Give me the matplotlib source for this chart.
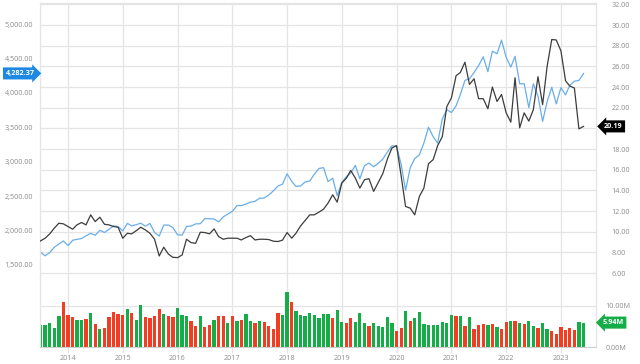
import matplotlib

matplotlib.use("Agg")

import matplotlib.dates as mdates  # noqa: E402
import matplotlib.pyplot as plt  # noqa: E402
import matplotlib.transforms as mtransforms  # noqa: E402
import pandas as pd  # noqa: E402

# monthly points, Jul 2013 .. Jun 2023
months = pd.date_range("2013-07-01", periods=120, freq="MS")

index_close = [
    1685.7, 1633.0, 1681.6, 1756.5, 1805.8, 1848.4,
    1782.6, 1859.5, 1872.3, 1884.0, 1923.6, 1960.2, 1930.7, 2003.4, 1972.3, 2018.1, 2067.6, 2058.9,
    1995.0, 2104.5, 2067.9, 2085.5, 2107.4, 2063.1, 2103.8, 1972.2, 1920.0, 2079.4, 2080.4, 2043.9,
    1940.2, 1932.2, 2059.7, 2065.3, 2097.0, 2098.9, 2173.6, 2171.0, 2168.3, 2126.2, 2198.8, 2238.8,
    2278.9, 2363.6, 2362.7, 2384.2, 2411.8, 2423.4, 2470.3, 2471.7, 2519.4, 2575.3, 2647.6, 2673.6,
    2823.8, 2713.8, 2640.9, 2648.1, 2705.3, 2718.4, 2816.3, 2901.5, 2914.0, 2711.7, 2760.2, 2506.9,
    2704.1, 2784.5, 2834.4, 2945.8, 2752.1, 2941.8, 2980.4, 2926.5, 2976.7, 3037.6, 3141.0, 3230.8,
    3225.5, 2954.2, 2584.6, 2912.4, 3044.3, 3100.3, 3271.1, 3500.3, 3363.0, 3270.0, 3621.6, 3756.1,
    3714.2, 3811.2, 3972.9, 4181.2, 4204.1, 4297.5, 4395.3, 4522.7, 4307.5, 4605.4, 4567.0, 4766.2,
    4515.6, 4373.9, 4530.4, 4131.9, 4132.2, 3785.4, 4130.3, 3955.0, 3585.6, 3872.0, 4080.1, 3839.5,
    4076.6, 3970.2, 4109.3, 4169.5, 4179.8, 4282.37,
]

stock_close = [
    9.11, 9.37, 9.79, 10.34, 10.82, 10.76,
    10.50, 10.24, 10.66, 10.89, 10.66, 11.63, 10.98, 11.40, 10.72, 10.66, 10.50, 10.43,
    9.37, 9.85, 9.79, 10.10, 10.43, 10.17, 9.85, 9.27, 7.65, 8.50, 7.84, 7.52,
    7.49, 7.75, 9.27, 8.94, 8.88, 9.95, 9.92, 9.79, 10.27, 9.53, 9.27, 9.37,
    9.37, 9.37, 9.20, 9.43, 9.62, 9.20, 9.27, 9.27, 9.24, 9.08, 9.05, 9.18,
    9.92, 9.37, 9.85, 10.56, 11.08, 11.63, 11.63, 11.89, 12.18, 12.77, 13.57, 12.86,
    14.70, 15.19, 15.93, 15.19, 14.22, 15.03, 15.13, 13.90, 14.77, 15.61, 17.04, 18.10,
    18.33, 15.35, 12.44, 12.28, 11.63, 13.41, 14.22, 16.58, 16.97, 18.33, 19.20, 22.10,
    22.96, 25.10, 25.40, 26.40, 24.25, 24.80, 22.87, 22.87, 21.90, 24.00, 22.60, 23.28,
    21.50, 20.60, 24.90, 20.05, 21.50, 20.70, 21.80, 25.00, 22.30, 26.00, 28.60, 28.55,
    27.50, 24.60, 24.10, 23.90, 19.95, 20.19,
]

volume_m = [
    5.30, 5.27, 5.77, 4.70, 7.50, 10.90,
    7.80, 7.40, 6.60, 6.60, 6.90, 8.30, 5.50, 4.50, 4.70, 7.30, 8.60, 7.97,
    7.90, 9.27, 8.30, 6.50, 10.30, 7.30, 7.00, 7.56, 9.27, 8.05, 7.56, 7.30,
    9.43, 7.70, 7.64, 6.34, 5.00, 7.50, 4.80, 5.30, 6.50, 7.50, 7.50, 5.85,
    7.64, 6.43, 6.60, 8.05, 6.26, 5.77, 6.34, 6.10, 5.00, 4.50, 8.20, 7.80,
    13.40, 10.90, 8.70, 7.80, 7.64, 8.30, 7.80, 7.00, 8.10, 7.97, 7.00, 8.95,
    6.20, 5.85, 7.15, 6.10, 8.20, 5.77, 5.10, 5.85, 5.10, 4.90, 7.20, 5.85,
    4.00, 4.55, 8.78, 6.43, 7.15, 8.60, 5.50, 5.45, 5.45, 5.45, 6.20, 5.77,
    7.90, 7.50, 7.50, 5.00, 7.30, 4.30, 5.27, 5.50, 5.27, 5.60, 4.90, 4.50,
    6.00, 6.43, 6.26, 5.93, 5.70, 6.26, 5.00, 4.70, 5.85, 4.50, 4.00, 3.10,
    4.80, 4.20, 4.55, 4.10, 6.20, 5.94,
]

# g = up month (green bar), r = down month (red bar)
volume_dir = (
    "gggggr"
    "rrggrgrgrrrr"
    "rgrggrrrrgrr"
    "gggrrgrrgrrg"
    "rgrggrgrrrrg"
    "grggggggggr"
    "ggrrgggrgggg"
    "grrgrggggggg"
    "ggrgrgrrrgrg"
    "rrgrgrggrggr"
    "rrrrrg"
)

left_ticks = [1500, 2000, 2500, 3000, 3500, 4000, 4500, 5000]
right_ticks = [6, 8, 10, 12, 14, 16, 18, 20, 22, 24, 26, 28, 30, 32]

BLUE = "#6aaee8"
DARK = "#3c3c3c"
GREEN = "#14ad47"
RED = "#f23d22"
GRID = "#e4e4e4"
LABEL = "#8c8c8c"

plt.rcParams["font.family"] = ["Open Sans", "DejaVu Sans"]
plt.rcParams["axes.unicode_minus"] = False

W, H = 640, 364


def px_rect(x0, y0, x1, y1):
    return [x0 / W, 1 - y1 / H, (x1 - x0) / W, (y1 - y0) / H]


fig = plt.figure(figsize=(W / 100, H / 100), dpi=100)
fig.patch.set_facecolor("white")

ax = fig.add_axes(px_rect(40, 3, 596, 278))
ax2 = ax.twinx()
axv = fig.add_axes(px_rect(40, 278, 596, 347))

xlim = (pd.Timestamp("2013-06-28"), pd.Timestamp("2023-08-23"))
for a in (ax, axv):
    a.set_xlim(*xlim)
    a.xaxis.set_major_locator(mdates.YearLocator())
    a.xaxis.set_major_formatter(mdates.DateFormatter("%Y"))
    a.grid(axis="x", color=GRID, linewidth=0.9)
    a.set_axisbelow(True)

ax.set_ylim(1311, 5305)
ax2.set_ylim(5.52, 32.13)

# horizontal grid follows the right-hand scale but sits under both lines
blend = mtransforms.blended_transform_factory(ax.transAxes, ax2.transData)
for v in right_ticks:
    ax.plot([0, 1], [v, v], transform=blend, color=GRID, linewidth=0.9,
            zorder=0.5, scalex=False, scaley=False)

ax.plot(months, index_close, color=BLUE, linewidth=0.9, zorder=2)
ax2.plot(months, stock_close, color=DARK, linewidth=0.9, zorder=3)

ax.set_yticks(left_ticks)
ax.set_yticklabels([f"{v:,.2f}" for v in left_ticks])
ax.tick_params(axis="y", length=0, labelsize=5.2, labelcolor=LABEL, pad=5)
ax.tick_params(axis="x", length=0, labelbottom=False)
ax2.set_yticks(right_ticks)
# the last-price badge covers the tick label next to it
ax2.set_yticklabels(["" if abs(v - stock_close[-1]) < 1 else f"{v:.2f}"
                     for v in right_ticks])
ax2.tick_params(axis="y", length=0, labelsize=5.2, labelcolor=LABEL, pad=11)

for side in ("top", "left", "right"):
    ax.spines[side].set_color(GRID)
    ax.spines[side].set_linewidth(0.9)
ax.spines["bottom"].set_color("#cfcfcf")
for spine in ax2.spines.values():
    spine.set_visible(False)

# volume panel
bar_colors = [GREEN if d == "g" else RED for d in volume_dir]
axv.bar(months, volume_m, width=22, color=bar_colors, linewidth=0, zorder=2)
axv.set_ylim(0, 16.8)
axv.yaxis.tick_right()
axv.set_yticks([0, 10])
axv.set_yticklabels(["0.00M", "10.00M"])
axv.yaxis.grid(True, color=GRID, linewidth=0.9)
axv.tick_params(axis="y", length=0, labelsize=5.2, labelcolor=LABEL, pad=7)
axv.tick_params(axis="x", length=4, width=0.9, color=GRID, labelsize=5.2,
                labelcolor=LABEL, pad=1.5)
axv.spines["top"].set_visible(False)
for side in ("left", "right"):
    axv.spines[side].set_color(GRID)
    axv.spines[side].set_linewidth(0.9)
axv.spines["bottom"].set_color("#cfcfcf")

# last-value badges
badge_kw = dict(ha="center", va="center", color="white", fontsize=5.2,
                fontweight="bold", clip_on=False)
ax.text(-0.036, index_close[-1], f"{index_close[-1]:,.2f}",
        transform=mtransforms.blended_transform_factory(ax.transAxes, ax.transData),
        bbox=dict(boxstyle="rarrow,pad=0.35", fc="#1e88e5", ec="none"), **badge_kw)
ax2.text(1.031, stock_close[-1], f"{stock_close[-1]:.2f}",
         transform=mtransforms.blended_transform_factory(ax2.transAxes, ax2.transData),
         bbox=dict(boxstyle="larrow,pad=0.35", fc="black", ec="none"), **badge_kw)
axv.text(1.031, volume_m[-1], f"{volume_m[-1]:.2f}M",
         transform=mtransforms.blended_transform_factory(axv.transAxes, axv.transData),
         bbox=dict(boxstyle="larrow,pad=0.35", fc=GREEN, ec="none"), **badge_kw)

fig.savefig("out.png", dpi=100, facecolor="white")
plt.close(fig)
